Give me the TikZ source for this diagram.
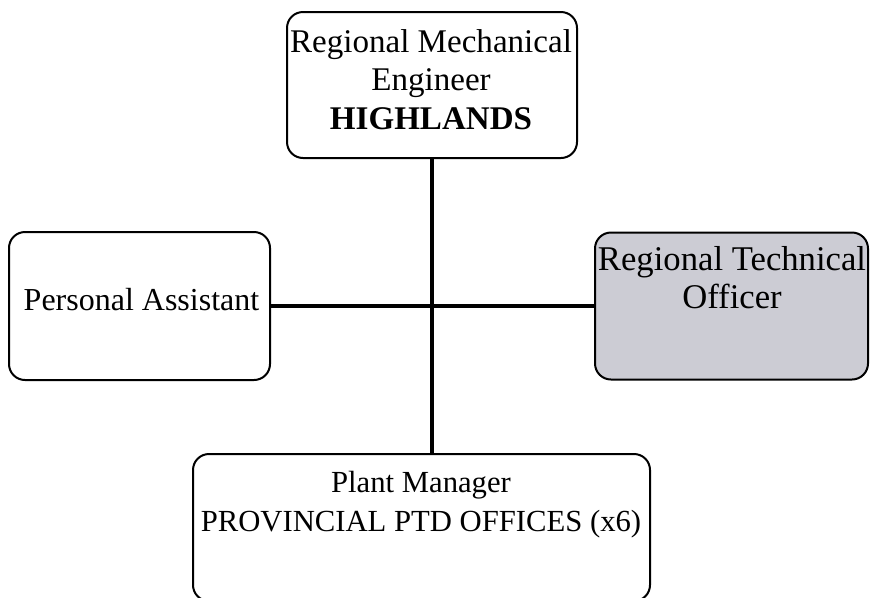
\documentclass[tikz,border=0pt]{standalone}
\usepackage{fontspec}
\setmainfont{Liberation Serif}
\usetikzlibrary{positioning}

\definecolor{officegray}{RGB}{204,204,212}

\tikzset{
  post/.style={draw, rounded corners=12pt, line width=1.5pt},
  caption/.style={align=center, inner sep=0pt, font=\fontsize{#1}{29}\selectfont},
  caption/.default=23.5,
  link/.style={line width=3.4pt},
}

\begin{document}
\begin{tikzpicture}[x=0.75pt, y=-0.75pt]
\useasboundingbox (0,0) rectangle (870,597);

% the four posts
\node[post, minimum width=217.5pt, minimum height=109.5pt] (rme) at (432,85) {};
\node[post, minimum width=195.75pt, minimum height=111pt] (pa) at (139.5,306) {};
\node[post, fill=officegray, minimum width=204.75pt, minimum height=110.25pt] (rto) at (731.5,306) {};
\node[post, minimum width=342.75pt, minimum height=110.25pt] (pm) at (421.5,527.5) {};

% links
\draw[link] (rme.south) -- (rme.south |- pm.north);
\draw[link] (pa.east) -- (rto.west);

% titles
\node[caption=24.8, anchor=north] (rmetext) at (431,29) {Regional Mechanical\\Engineer\\\textbf{HIGHLANDS}};
\node[caption=24, anchor=base] (patext) at (141.5,310) {Personal Assistant};
\node[caption=26, anchor=north] (rtotext) at (732,246) {Regional Technical\\Officer};
\node[caption=23, anchor=north] (pmtext) at (421,471) {Plant Manager\\PROVINCIAL PTD OFFICES (x6)};
\end{tikzpicture}
\end{document}
